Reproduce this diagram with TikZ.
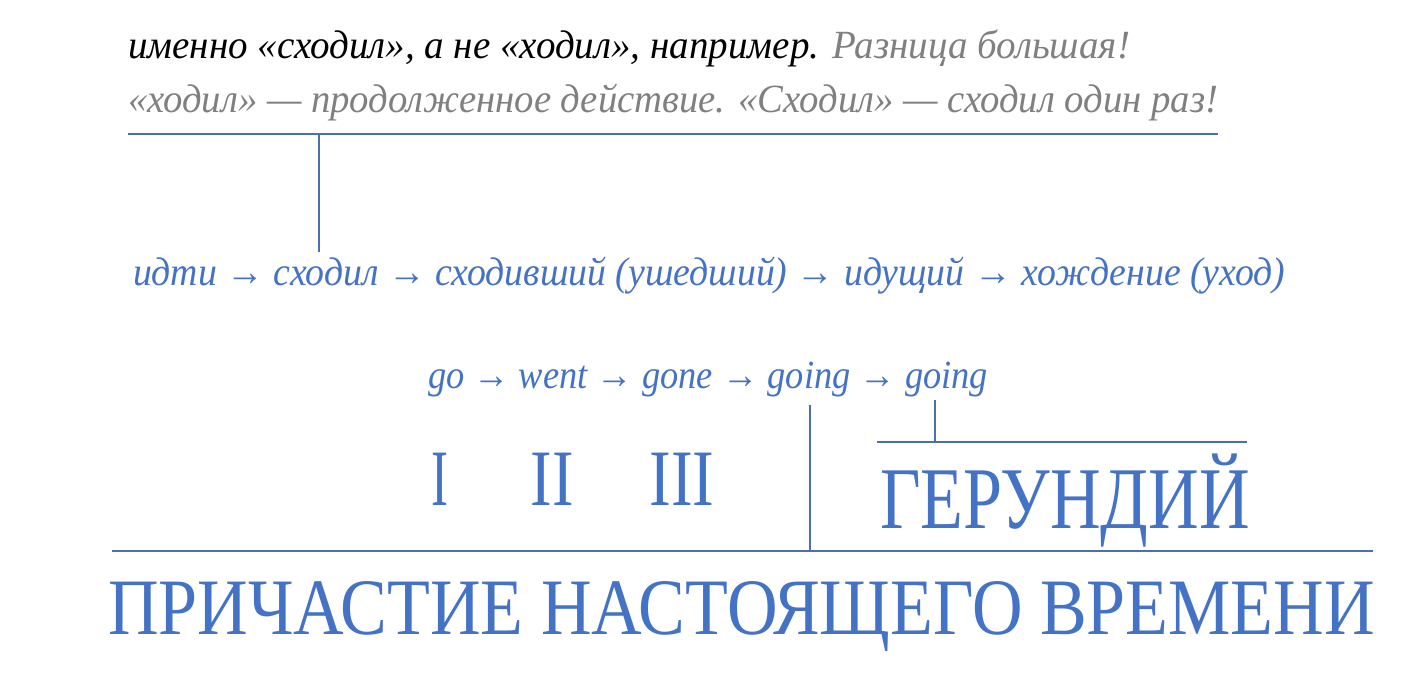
\documentclass[tikz,border=0pt]{standalone}
\usepackage{fontspec}
\usepackage{graphicx}
\setmainfont{Liberation Serif}
\definecolor{cblue}{HTML}{4472C4}
\definecolor{cgray}{HTML}{808080}
\definecolor{cline}{HTML}{4A6FB5}
\tikzset{
  txt/.style={inner sep=0pt, outer sep=0pt, anchor=base west},
  big/.style={inner sep=0pt, outer sep=0pt, anchor=base, text=cblue},
  rule/.style={draw=cline, line width=1.1pt},
}
\newcommand{\fitw}[2]{\resizebox{#1pt}{\height}{#2}}
\begin{document}
\begin{tikzpicture}[x=1pt,y=-1pt]
\useasboundingbox[fill=white] (0,0) rectangle (1422,694);
% text lines
\node[txt] (l1) at (128,58) {\fitw{1002}{\fontsize{40}{48}\selectfont\itshape\color{black}именно «сходил», а не «ходил», например. \color{cgray}Разница большая!}};
\node[txt] (l2) at (128,112) {\fitw{1090}{\fontsize{40}{48}\selectfont\itshape\color{cgray}«ходил» — продолженное действие. «Сходил» — сходил один раз!}};
\node[txt] (l3) at (133,285) {\fitw{1152}{\fontsize{40}{48}\selectfont\itshape\color{cblue}идти → сходил → сходивший (ушедший) → идущий → хождение (уход)}};
\node[txt] (l4) at (428,388) {\fitw{560}{\fontsize{40}{48}\selectfont\itshape\color{cblue}go → went → gone → going → going}};
% roman numerals
\node[big] (n1) at (440,505) {\fitw{17}{\fontsize{80}{90}\selectfont I}};
\node[big] (n2) at (552,505) {\fitw{43}{\fontsize{80}{90}\selectfont II}};
\node[big] (n3) at (682,505) {\fitw{65}{\fontsize{80}{90}\selectfont III}};
% gerund
\node[big, anchor=base west] (ger) at (880,528) {\fitw{370}{\fontsize{88}{96}\selectfont ГЕРУНДИЙ}};
% title
\node[big, anchor=base west] (title) at (108,634) {\fitw{1267}{\fontsize{80}{90}\selectfont ПРИЧАСТИЕ НАСТОЯЩЕГО ВРЕМЕНИ}};
% rules
\coordinate (r1a) at (128,134);
\coordinate (r1b) at (1218,134);
\coordinate (v1a) at (319,134);
\coordinate (v1b) at (319,252);
\coordinate (v2a) at (810,405);
\coordinate (v2b) at (810,551);
\coordinate (v3a) at (935,400);
\coordinate (v3b) at (935,442);
\coordinate (r2a) at (877,442);
\coordinate (r2b) at (1247,442);
\coordinate (r3a) at (112,551);
\coordinate (r3b) at (1373,551);
\draw[rule] (r1a) -- (r1b);
\draw[rule] (v1a) -- (v1b);
\draw[rule] (v2a) -- (v2b);
\draw[rule] (v3a) -- (v3b);
\draw[rule] (r2a) -- (r2b);
\draw[rule] (r3a) -- (r3b);
\end{tikzpicture}
\end{document}
